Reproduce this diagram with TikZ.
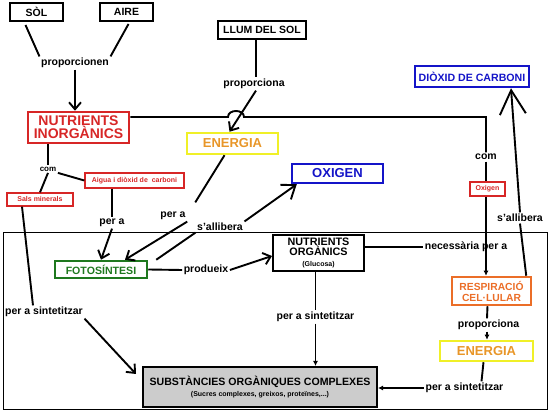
\documentclass[tikz,border=0pt]{standalone}
\usepackage{fontspec}
\setmainfont{Liberation Sans}
\usetikzlibrary{arrows.meta}
\definecolor{cred}{RGB}{215,38,38}
\definecolor{corg}{RGB}{232,150,40}
\definecolor{cyel}{RGB}{240,240,40}
\definecolor{cres}{RGB}{235,110,40}
\definecolor{cgrn}{RGB}{30,120,30}
\definecolor{cblu}{RGB}{20,20,200}
\definecolor{cgry}{RGB}{204,204,204}
\newcommand\myfs[1]{\fontsize{#1}{#1}\selectfont\bfseries}
\begin{document}
\begin{tikzpicture}[x=1pt,y=-1pt,
  box/.style={draw, line width=2pt, inner sep=0pt, align=center},
  sbox/.style={draw=cred, line width=1.3pt, inner sep=0pt, text=cred, font=\myfs{7}},
  lbl/.style={inner sep=1.5pt, font=\myfs{10.5}},
  ln/.style={line width=1.9pt},
  arr/.style={ln, -{Straight Barb[length=7pt,width=12pt]}},
  arrb/.style={ln, -{Straight Barb[length=12pt,width=18pt]}},
  arrs/.style={ln, -{Latex[length=5pt,width=5pt]}}]
\useasboundingbox (0,0) rectangle (550,414);
\draw[line width=1pt] (3,233) rectangle (547,410);

% nodes
\node[box, minimum width=53pt, minimum height=18pt, font=\myfs{10.5}] (sol) at (36.5,12) {SÒL};
\node[box, minimum width=53pt, minimum height=18pt, font=\myfs{10.5}] (aire) at (126.5,12) {AIRE};
\node[lbl] (prop1) at (75,63) {proporcionen};
\node[box, draw=cred, line width=2.5pt, text=cred, minimum width=101pt, minimum height=31pt, font=\fontsize{14}{13}\selectfont\bfseries] (nin) at (78.5,127.5) {NUTRIENTS\\INORGÀNICS};
\node[box, minimum width=88pt, minimum height=18pt, font=\myfs{10.5}] (llum) at (262,30) {LLUM DEL SOL};
\node[lbl] (prop2) at (254,84) {proporciona};
\node[box, draw=cyel, line width=2.5pt, text=corg, minimum width=91pt, minimum height=21pt, font=\myfs{13}] (en1) at (232.5,143.5) {ENERGIA};
\node[lbl, font=\myfs{8}] (com1) at (48,169) {com};
\node[sbox, minimum width=66pt, minimum height=13pt] (sals) at (40,199.5) {Sals minerals};
\node[sbox, minimum width=99pt, minimum height=15pt] (aigua) at (134.5,180.5) {Aigua i diòxid de\ \ carboni};
\node[lbl] (pera1) at (112,223) {per a};
\node[lbl] (pera2) at (173,216) {per a};
\node[lbl] (sall1) at (220,227) {s'allibera};
\node[box, draw=cblu, line width=2.5pt, text=cblu, minimum width=91pt, minimum height=19pt, font=\myfs{13}] (oxi) at (337.5,173.5) {OXIGEN};
\node[box, draw=cgrn, line width=2.5pt, text=cgrn, minimum width=92pt, minimum height=17pt, font=\myfs{10.6}] (foto) at (101,269.5) {FOTOSÍNTESI};
\node[lbl] (prod) at (206,270) {produeix};
\node[box, minimum width=91pt, minimum height=36pt] (nuo) at (318.5,253) {\myfs{10.8}NUTRIENTS\\[-1.5pt]\myfs{10.8}ORGÀNICS\\[-1pt]\myfs{7}(Glucosa)};
\node[lbl] (nec) at (466,247) {necessària per a};
\node[lbl] (com2) at (486,157) {com};
\node[sbox, minimum width=35pt, minimum height=14pt] (oxs) at (487.5,189) {Oxigen};
\node[box, draw=cblu, line width=2.5pt, text=cblu, minimum width=114pt, minimum height=21pt, font=\myfs{10.6}] (diox) at (472,76.5) {DIÒXID DE CARBONI};
\node[lbl] (sall2) at (520,218) {s'allibera};
\node[box, draw=cres, line width=2.5pt, text=cres, minimum width=79pt, minimum height=28pt, font=\fontsize{10.3}{11}\selectfont\bfseries] (resp) at (491.5,291) {RESPIRACIÓ\\CEL·LULAR};
\node[lbl] (prop3) at (488.5,325) {proporciona};
\node[box, draw=cyel, line width=2.5pt, text=corg, minimum width=93pt, minimum height=20pt, font=\myfs{13}] (en2) at (486.5,351) {ENERGIA};
\node[lbl] (pers1) at (464.5,388) {per a sintetitzar};
\node[lbl] (pers2) at (315.5,317) {per a sintetitzar};
\node[lbl] (pers3) at (44,312) {per a sintetitzar};
\node[box, fill=cgry, minimum width=234pt, minimum height=40pt] (sub) at (260,387) {\myfs{10.6}SUBSTÀNCIES ORGÀNIQUES COMPLEXES\\[-1pt]\myfs{7}(Sucres complexes, greixos, proteïnes,...)};

% connectors
\draw[ln] ([shift={(-11,3)}]sol.south) -- (prop1.north west);
\draw[ln] ([shift={(2,2)}]aire.south) -- (prop1.north east);
\draw[arr] (prop1) -- (prop1 |- nin.north);
\draw[ln] ([xshift=-6pt]llum.south) -- ([xshift=2pt]prop2.north);
\draw[arr] ([xshift=2pt]prop2.south) -- ([xshift=-3pt]en1.north);
\coordinate (hopc) at (236,117);
\draw[ln] ([yshift=10.5pt]nin.east) -- ([xshift=-8pt]hopc) .. controls ([shift={(-8,-8)}]hopc) and ([shift={(8,-8)}]hopc) .. ([xshift=8pt]hopc) -- (com2 |- hopc) -- (com2.north);
\draw[ln] (com2.south) -- (oxs.north -| com2.south);
\draw[arrs] (oxs.south -| com2.south) -- (com2.south |- resp.north);
\draw[ln] (com1 |- nin.south) -- (com1.north);
\draw[ln] (com1.south) -- (sals.north);
\draw[ln] (com1.south east) -- (aigua.west);
\draw[ln] (pera1 |- aigua.south) -- (pera1.north);
\draw[arr] (pera1.south) -- (foto.north);
\draw[ln] ([xshift=-8pt]en1.south) -- ([shift={(8,-8)}]pera2.north east);
\draw[arr] (pera2.south east) -- ([xshift=24pt]foto.north);
\draw[ln] ([xshift=8pt]foto.north east) -- (sall1.south west);
\draw[arrb] (sall1.north east) -- ([xshift=6pt]oxi.south west);
\draw[ln] (foto.east) -- (prod.west);
\draw[arr] (prod.east) -- ([yshift=-3pt]nuo.west);
\draw[ln] (nuo.east |- nec) -- (nec.west);
\draw[ln] (pers2 |- nuo.south) -- (pers2.north);
\draw[arrs] (pers2.south) -- (pers2 |- sub.north);
\draw[ln] ([xshift=-4pt]resp.south) -- ([xshift=-1.5pt]prop3.north);
\draw[arrs] ([xshift=-1.5pt]prop3.south) -- ([xshift=-1.5pt]prop3.south |- en2.north);
\draw[ln] ([xshift=-3pt]en2.south) -- ([xshift=17pt]pers1.north);
\draw[arrs] (pers1.west) -- (sub.east |- pers1.west);
\draw[ln] ([xshift=-18pt]sals.south) -- ([xshift=-11pt]pers3.north);
\draw[arr] (pers3.south east) -- ([shift={(-6,8)}]sub.north west);
\draw[ln] ([xshift=-6pt]resp.north east) -- (sall2.south);
\draw[ln, -{Straight Barb[length=24pt,width=26pt]}] (sall2.north) -- ([xshift=39pt]diox.south);
\end{tikzpicture}
\end{document}
